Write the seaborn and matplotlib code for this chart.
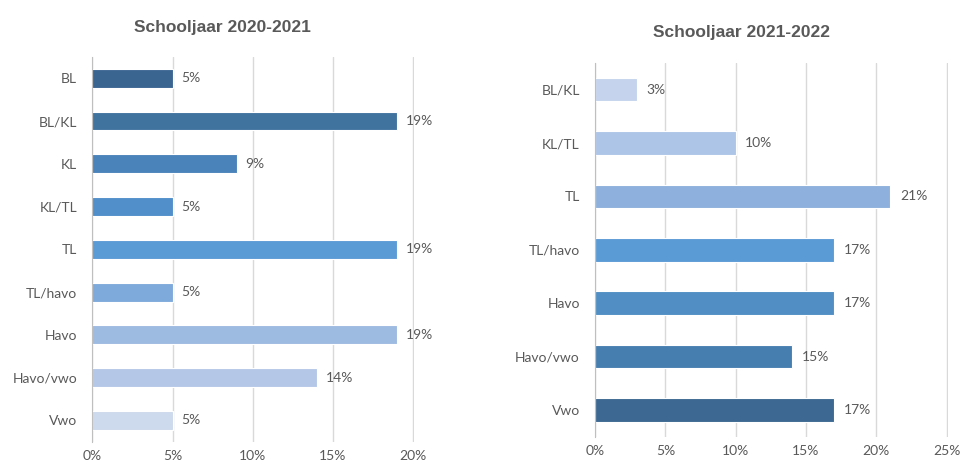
import pandas as pd
import numpy as np
import matplotlib.pyplot as plt
import seaborn as sns
from matplotlib.ticker import FixedLocator, PercentFormatter

# --- DATA ---
LEVELS_2021 = ["BL", "BL/KL", "KL", "KL/TL", "TL", "TL/havo", "Havo", "Havo/vwo", "Vwo"]
SHARE_2021 = [5, 19, 9, 5, 19, 5, 19, 14, 5]
LABELS_2021 = ["5%", "19%", "9%", "5%", "19%", "5%", "19%", "14%", "5%"]
COLORS_2021 = ["#3b6591", "#41739f", "#4a83ba", "#508fca", "#5b9bd5",
               "#7eaadb", "#9dbae0", "#b4c7e7", "#cdd9ec"]

LEVELS_2122 = ["BL/KL", "KL/TL", "TL", "TL/havo", "Havo", "Havo/vwo", "Vwo"]
SHARE_2122 = [3, 10, 21, 17, 17, 14, 17]
LABELS_2122 = ["3%", "10%", "21%", "17%", "17%", "15%", "17%"]
COLORS_2122 = ["#c5d4ec", "#adc5e7", "#8db1dc", "#5b9bd5", "#508ec4", "#477eb0", "#3d6891"]

TEXT = "#595959"
GRID = "#d9d9d9"

sns.set_style("white")
plt.rcParams['font.family'] = ['Lato', 'DejaVu Sans']


def draw(ax, levels, shares, labels, colors, xmax, title, title_xy):
    df = pd.DataFrame({"level": levels, "share": shares})
    sns.barplot(data=df, y="level", x="share", hue="level", palette=colors,
                order=levels, hue_order=levels, orient="h", width=0.44,
                saturation=1, edgecolor="white", linewidth=0.8, legend=False, ax=ax)
    ax.set_xlim(0, xmax * 1.003)
    ax.set_ylim(len(levels) - 0.5, -0.5)
    ax.set_xticks(np.arange(0, xmax + 0.1, 5))
    ax.xaxis.set_major_formatter(PercentFormatter(decimals=0))
    ax.grid(axis="x", color=GRID, linewidth=1)
    ax.set_axisbelow(True)
    for s in ["top", "right", "bottom"]:
        ax.spines[s].set_visible(False)
    ax.spines["left"].set_color("#bfbfbf")
    ax.set_xlabel("")
    ax.set_ylabel("")
    ax.tick_params(axis="y", which="major", length=0, pad=11, labelsize=10, labelcolor=TEXT)
    ax.tick_params(axis="x", length=0, labelsize=10, labelcolor=TEXT, pad=6)
    ax.yaxis.set_minor_locator(FixedLocator(np.arange(-0.5, len(levels), 1)))
    ax.tick_params(axis="y", which="minor", length=5, color="#bfbfbf", direction="out")
    for i, (v, lab) in enumerate(zip(shares, labels)):
        ax.text(v + xmax * 0.027, i, lab, va="center", ha="left",
                fontsize=10, color=TEXT)
    ax.figure.text(title_xy[0], title_xy[1], title,
                   ha="center", va="center", fontsize=12.5, fontweight="bold",
                   color=TEXT, family="Liberation Sans")


fig = plt.figure(figsize=(9.63, 4.70), dpi=100)
ax1 = fig.add_axes([0.096, 0.060, 0.334, 0.819])
ax2 = fig.add_axes([0.618, 0.071, 0.366, 0.795])

draw(ax1, LEVELS_2021, SHARE_2021, LABELS_2021, COLORS_2021, 20, "Schooljaar 2020-2021", (0.2305, 0.942))
draw(ax2, LEVELS_2122, SHARE_2122, LABELS_2122, COLORS_2122, 25, "Schooljaar 2021-2022", (0.7695, 0.930))

fig.savefig("out.png", dpi=100)
